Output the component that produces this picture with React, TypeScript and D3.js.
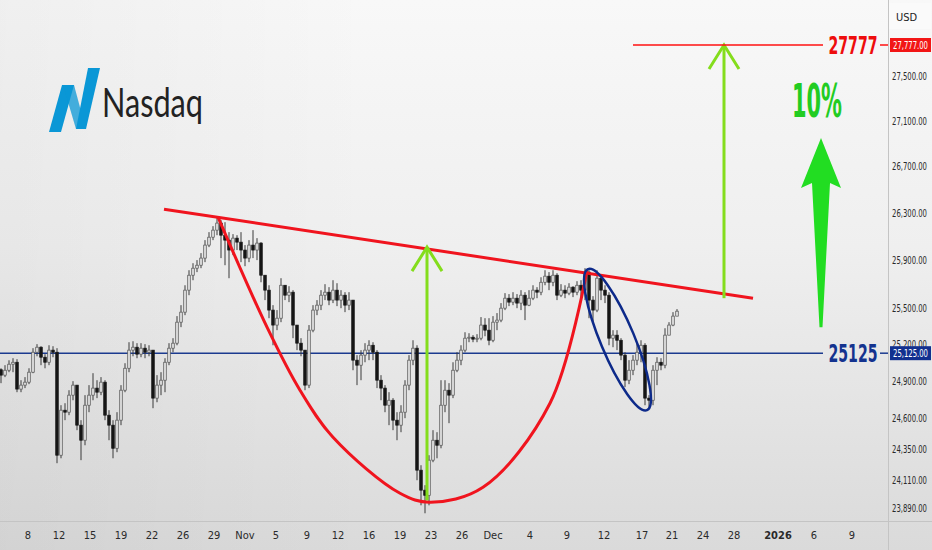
import { scaleLinear, scaleLog, line, curveCatmullRom } from 'd3';

const W = 932;
const H = 550;
const plotRight = 888;
const timeAxisTop = 521;

// candles (open = previous close)
const firstOpen = 24990;
const closes = [
  24946, 24986, 25035, 25051, 24833, 24865, 24889, 24970, 25133, 25174,
  25092, 25051, 25150, 25133, 24304, 24663, 24647, 24784, 24865, 24543,
  24423, 24703, 24784, 24841, 24808, 24889, 24623, 24543, 24359, 24583,
  24824, 25002, 25150, 25174, 25117, 25166, 25133, 25150, 24760, 24865,
  24905, 25051, 25166, 25207, 25380, 25463, 25646, 25771, 25830, 25855,
  25915, 26025, 26092, 26152, 26212, 26109, 26067, 25983, 26084, 26050,
  25983, 25915, 26025, 25983, 26042, 25771, 25646, 25480, 25356, 25413,
  25687, 25604, 25629, 25356, 25207, 25150, 24865, 25314, 25480, 25521,
  25604, 25629, 25563, 25646, 25563, 25604, 25521, 25563, 25068, 25027,
  25109, 25150, 25190, 25133, 24905, 24841, 24703, 24743, 24583, 24543,
  24647, 24865, 25068, 25166, 24186, 24029, 23989, 24265, 24423, 24383,
  24703, 24824, 24784, 24986, 25068, 25150, 25248, 25256, 25240, 25248,
  25356, 25314, 25231, 25380, 25397, 25496, 25579, 25546, 25579, 25538,
  25604, 25521, 25579, 25646, 25629, 25712, 25763, 25712, 25771, 25604,
  25646, 25621, 25671, 25629, 25687, 25646, 25797, 25563, 25480, 25746,
  25646, 25604, 25248, 25273, 25231, 25109, 24905, 24986, 25068, 25133,
  25190, 24760, 24743, 24986, 25051, 25027, 25273, 25356, 25430, 25471,
];
const highs = [
  25002, 25027, 25067, 25084, 25076, 24905, 24930, 25002, 25166, 25199,
  25182, 25117, 25190, 25182, 25166, 24703, 24719, 24824, 24897, 24865,
  24583, 24784, 24865, 24962, 24905, 24930, 24905, 24663, 24583, 24647,
  24865, 25043, 25215, 25223, 25207, 25207, 25199, 25190, 25150, 24946,
  24970, 25084, 25207, 25248, 25430, 25521, 25687, 25813, 25872, 25898,
  25957, 26067, 26135, 26186, 26263, 26237, 26220, 26135, 26118, 26109,
  26135, 26025, 26067, 26152, 26084, 26050, 25746, 25687, 25521, 25480,
  25746, 25687, 25679, 25646, 25356, 25248, 25150, 25356, 25521, 25563,
  25646, 25696, 25671, 25729, 25704, 25646, 25629, 25629, 25563, 25109,
  25150, 25207, 25231, 25215, 25150, 24946, 24865, 24808, 24760, 24647,
  24703, 24905, 25109, 25231, 25190, 24225, 24068, 24304, 24503, 24487,
  24905, 24905, 24881, 25051, 25133, 25190, 25297, 25289, 25273, 25281,
  25422, 25413, 25413, 25430, 25455, 25538, 25621, 25613, 25629, 25613,
  25646, 25629, 25646, 25687, 25671, 25754, 25813, 25797, 25813, 25788,
  25696, 25687, 25704, 25679, 25721, 25729, 25830, 25813, 25596, 25813,
  25771, 25687, 25629, 25314, 25314, 25248, 25133, 25068, 25109, 25215,
  25231, 25207, 24784, 25027, 25092, 25084, 25330, 25380, 25463, 25488,
];
const lows = [
  24881, 24930, 24970, 24970, 24808, 24808, 24841, 24873, 24962, 25100,
  25027, 25002, 25027, 25092, 24241, 24280, 24583, 24623, 24743, 24503,
  24265, 24383, 24647, 24743, 24760, 24784, 24583, 24423, 24280, 24328,
  24543, 24808, 24970, 25100, 25084, 25092, 25084, 25100, 24679, 24727,
  24784, 24808, 25027, 25133, 25190, 25339, 25438, 25604, 25729, 25797,
  25830, 25881, 26008, 26067, 26109, 25915, 25855, 25746, 25940, 25983,
  25881, 25847, 25881, 25915, 25898, 25712, 25563, 25413, 25190, 25314,
  25380, 25563, 25546, 25248, 25150, 25100, 24824, 24841, 25297, 25438,
  25480, 25563, 25521, 25538, 25513, 25496, 25463, 25480, 24986, 24865,
  24905, 25051, 25068, 25068, 24841, 24743, 24647, 24543, 24503, 24423,
  24487, 24599, 24824, 25027, 24107, 23911, 23849, 23911, 24249, 24280,
  24359, 24647, 24559, 24760, 24970, 25027, 25133, 25215, 25215, 25215,
  25231, 25264, 25190, 25215, 25314, 25380, 25480, 25513, 25521, 25496,
  25480, 25397, 25513, 25563, 25579, 25604, 25687, 25646, 25679, 25563,
  25588, 25579, 25604, 25588, 25604, 25546, 25563, 25413, 25380, 25463,
  25563, 25538, 25190, 25174, 25150, 25068, 24849, 24873, 24946, 25027,
  25051, 24703, 24679, 24703, 24865, 24986, 25002, 25297, 25347, 25430,
];

// axes
const priceTicks = [27500, 27100, 26700, 26300, 25900, 25500, 25200, 24900, 24600, 24350, 24110, 23890];
const timeLabels = ['8', '12', '15', '19', '22', '26', '29', 'Nov', '5', '9', '12', '16', '19', '23', '26', 'Dec', '4', '9', '12', '17', '21', '24', '28', '2026', '6', '9'];
const timeLabelBars = [6.75, 14.5, 22.25, 30, 37.75, 45.5, 53.25, 61, 68.75, 76.5, 84.25, 92, 99.75, 107.5, 115.25, 123, 132.25, 141.5, 150.75, 160.25, 167.75, 175.5, 183.25, 194.25, 203.25, 212.75];

// levels and drawings, in (bar index, price)
const targetPrice = 27777;
const supportPrice = 25125;
const gainLabel = '10%';
const trendline: [number, number][] = [[40.75, 26331], [188, 25579]];
const cupPoints: [number, number][] = [
  [54.25, 26263], [66.5, 25339], [74.75, 24824], [83, 24447], [99.75, 24005],
  [107.25, 23935], [120.5, 24052], [137.25, 24719], [146.5, 25813],
];
const ellipseAxis: [number, number][] = [[146.75, 25822], [161.5, 24663]];
const depthArrow = { bar: 106.5, from: 23950, to: 26008 };
const targetArrow = { bar: 180.75, from: 25579, to: targetPrice };
const targetLineStartBar = 158;
const bigArrow = { bar: 205, from: 25339, to: 26948 };

const fmt = (v: number) =>
  v.toLocaleString('en-US', { minimumFractionDigits: 2, maximumFractionDigits: 2 });

const axisFont = "'Liberation Sans Narrow', 'DejaVu Sans Condensed', 'Roboto', sans-serif";

export default function App() {
  const x = scaleLinear().domain([0, 220]).range([1, 881]);
  const y = scaleLog().domain([23890, 27777]).range([508, 45]);
  const bodyW = 2.6;

  const candles = closes.map((c, i) => {
    const o = i === 0 ? firstOpen : closes[i - 1];
    const h = Math.max(highs[i], o, c);
    const l = Math.min(lows[i], o, c);
    return { i, o, h, l, c, up: c >= o };
  });

  const cupPath = line<[number, number]>()
    .x((d) => x(d[0]))
    .y((d) => y(d[1]))
    .curve(curveCatmullRom.alpha(0.5))(cupPoints);

  // ellipse from its major axis ends
  const ex1 = x(ellipseAxis[0][0]);
  const ey1 = y(ellipseAxis[0][1]);
  const ex2 = x(ellipseAxis[1][0]);
  const ey2 = y(ellipseAxis[1][1]);
  const ecx = (ex1 + ex2) / 2;
  const ecy = (ey1 + ey2) / 2;
  const erx = Math.hypot(ex2 - ex1, ey2 - ey1) / 2;
  const eAngle = (Math.atan2(ey2 - ey1, ex2 - ex1) * 180) / Math.PI;

  const chevron = (bx: number, ty: number) =>
    `M${bx - 15},${ty + 24} L${bx},${ty} L${bx + 15},${ty + 24}`;

  const bx = x(bigArrow.bar);
  const bTop = y(bigArrow.to);
  const bBot = y(bigArrow.from);
  const bigArrowPath = [
    `M${bx},${bTop}`,
    `L${bx + 20},${bTop + 50}`,
    `L${bx + 9},${bTop + 45}`,
    `L${bx + 1.5},${bBot}`,
    `L${bx - 1.5},${bBot}`,
    `L${bx - 9},${bTop + 45}`,
    `L${bx - 20},${bTop + 50}`,
    'Z',
  ].join(' ');

  const yT = y(targetPrice);
  const yS = y(supportPrice);

  return (
    <div style={{ position: 'fixed', left: 0, top: 0 }}>
      <svg width={W} height={H} style={{ display: 'block' }}>
        <defs>
          <linearGradient id="bg" x1="0" y1="0" x2="0" y2="1">
            <stop offset="0" stopColor="#f8f8f8" />
            <stop offset="0.45" stopColor="#efefef" />
            <stop offset="1" stopColor="#dadada" />
          </linearGradient>
          <linearGradient id="side" x1="0" y1="0" x2="1" y2="0">
            <stop offset="0" stopColor="#000" stopOpacity={0.035} />
            <stop offset="0.4" stopColor="#000" stopOpacity={0} />
          </linearGradient>
        </defs>
        <rect width={W} height={H} fill="url(#bg)" />
        <rect width={W} height={H} fill="url(#side)" />

        {/* logo */}
        <g fill="#0a97d6">
          <polygon points="49,132 61,132 74,85 62,85" />
          <polygon points="63,85 74,85 85,126 76,129" fillOpacity={0.75} />
          <polygon points="76,129 86,129 100,68 88,68" />
        </g>
        <text x={102} y={117} fontFamily="Lato, 'Open Sans', sans-serif" fontSize={40} fill="#222"
          textLength={101} lengthAdjust="spacingAndGlyphs">Nasdaq</text>

        {/* support level */}
        <line x1={0} x2={823} y1={yS} y2={yS} stroke="#1b3a8f" strokeWidth={1.5} />
        <line x1={880} x2={889} y1={yS} y2={yS} stroke="#1b3a8f" strokeWidth={1.5} />

        {/* candles */}
        <g>
          {candles.map((d) => (
            <g key={d.i}>
              <line x1={x(d.i)} x2={x(d.i)} y1={y(d.h)} y2={y(d.l)} stroke="#3a3a3a" strokeWidth={1} />
              <rect
                x={x(d.i) - bodyW / 2}
                width={bodyW}
                y={y(Math.max(d.o, d.c))}
                height={Math.max(1, Math.abs(y(d.o) - y(d.c)))}
                fill={d.up ? '#dcdcdc' : '#161616'}
                stroke={d.up ? '#555' : '#161616'}
                strokeWidth={0.7}
              />
            </g>
          ))}
        </g>

        {/* cup and neckline */}
        <path d={cupPath ?? ''} fill="none" stroke="#f0141e" strokeWidth={3} />
        <line x1={x(trendline[0][0])} y1={y(trendline[0][1])} x2={x(trendline[1][0])} y2={y(trendline[1][1])}
          stroke="#f0141e" strokeWidth={3} />

        {/* handle ellipse */}
        <ellipse cx={ecx} cy={ecy} rx={erx} ry={17} transform={`rotate(${eAngle},${ecx},${ecy})`}
          fill="none" stroke="#0d2a8a" strokeWidth={2.5} />

        {/* measured move arrows */}
        <g stroke="#84dd1c" strokeWidth={3} fill="none">
          <line x1={x(depthArrow.bar)} x2={x(depthArrow.bar)} y1={y(depthArrow.from)} y2={y(depthArrow.to)} />
          <path d={chevron(x(depthArrow.bar), y(depthArrow.to))} />
          <line x1={x(targetArrow.bar)} x2={x(targetArrow.bar)} y1={y(targetArrow.from)} y2={y(targetArrow.to)} />
          <path d={chevron(x(targetArrow.bar), y(targetArrow.to))} />
        </g>

        {/* target level */}
        <line x1={x(targetLineStartBar)} x2={823} y1={yT} y2={yT} stroke="#ff1010" strokeWidth={1.5} />
        <line x1={880} x2={889} y1={yT} y2={yT} stroke="#ff1010" strokeWidth={1.5} />
        <text x={853} y={yT + 9} textAnchor="middle" fontFamily={axisFont} fontWeight="bold" fontSize={25}
          fill="#ee0d0d" textLength={49} lengthAdjust="spacingAndGlyphs">{targetPrice}</text>
        <text x={853} y={yS + 9} textAnchor="middle" fontFamily={axisFont} fontWeight="bold" fontSize={25}
          fill="#14338f" textLength={49} lengthAdjust="spacingAndGlyphs">{supportPrice}</text>

        {/* big arrow + percent */}
        <path d={bigArrowPath} fill="#22dd22" />
        <text x={817} y={117} textAnchor="middle" fontFamily={axisFont} fontWeight="bold" fontSize={46}
          fill="#22cc22" textLength={50} lengthAdjust="spacingAndGlyphs">{gainLabel}</text>

        {/* axes frame */}
        <rect x={plotRight + 1} y={3} width={W - plotRight - 2} height={26} fill="#fafafa" />
        <line x1={plotRight + 0.5} x2={plotRight + 0.5} y1={0} y2={H} stroke="#c4c4c4" />
        <line x1={0} x2={W} y1={timeAxisTop + 0.5} y2={timeAxisTop + 0.5} stroke="#c4c4c4" />

        {/* price axis */}
        <text x={896} y={21} fontFamily={axisFont} fontSize={11} fill="#222">USD</text>
        {priceTicks.map((p) => (
          <text key={p} x={892} y={y(p) + 4} fontFamily={axisFont} fontSize={10} fill="#2a2a2a"
            textLength={35} lengthAdjust="spacingAndGlyphs">{fmt(p)}</text>
        ))}
        <rect x={890} y={yT - 7} width={41} height={14} fill="#f21616" />
        <text x={910.5} y={yT + 4} textAnchor="middle" fontFamily={axisFont} fontSize={10} fill="#fff"
          textLength={35} lengthAdjust="spacingAndGlyphs">{fmt(targetPrice)}</text>
        <rect x={890} y={yS - 7} width={41} height={14} fill="#12308f" />
        <text x={910.5} y={yS + 4} textAnchor="middle" fontFamily={axisFont} fontSize={10} fill="#fff"
          textLength={35} lengthAdjust="spacingAndGlyphs">{fmt(supportPrice)}</text>

        {/* time axis */}
        {timeLabels.map((t, k) => (
          <text key={k} x={x(timeLabelBars[k])} y={539} textAnchor="middle" fontFamily={axisFont} fontSize={11}
            fontWeight={t === '2026' ? 'bold' : 'normal'} fill="#2a2a2a">{t}</text>
        ))}
      </svg>
    </div>
  );
}
